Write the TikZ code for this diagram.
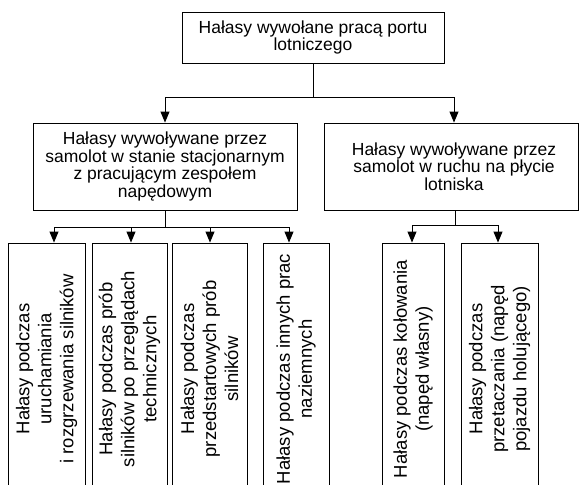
\documentclass[tikz,border=0pt]{standalone}
\usepackage{fontspec}
\setmainfont{Liberation Sans}
\usetikzlibrary{arrows.meta}
\begin{document}
\begin{tikzpicture}[x=1pt,y=-1pt,
  box/.style={draw,line width=0.9pt,align=center,inner sep=2pt,font=\fontsize{17.5}{17.5}\selectfont},
  vbox/.style={draw,line width=0.9pt,align=center,rotate=90,inner sep=2pt,font=\fontsize{18.5}{22}\selectfont,minimum width=252pt},
  conn/.style={line width=0.9pt},
  arr/.style={line width=0.9pt,-{Triangle[width=9pt,length=11pt]}}]
\useasboundingbox (0,0) rectangle (579,485);
\clip (0,0) rectangle (579,485);
% level 0
\node[box,minimum width=262pt,minimum height=51pt] (top) at (313,37.5) {Hałasy wywołane pracą portu\\lotniczego};
% level 1
\node[box,minimum width=264pt,minimum height=87pt] (L) at (165,166.5) {Hałasy wywoływane przez\\samolot w stanie stacjonarnym\\z pracującym zespołem\\napędowym};
\node[box,minimum width=254pt,minimum height=87pt] (R) at (451,166.5) {\hspace*{6pt}Hałasy wywoływane przez\\\hspace*{6pt}samolot w ruchu na płycie\\\hspace*{6pt}lotniska};
% level 2
\node[vbox,minimum height=77pt] (b1) at (46.5,369) {Hałasy podczas\\uruchamiania\\i rozgrzewania silników};
\node[vbox,minimum height=75pt] (b2) at (129.5,369) {Hałasy podczas prób\\silników po przeglądach\\technicznych};
\node[vbox,minimum height=75pt] (b3) at (209.5,369) {Hałasy podczas\\przedstartowych prób\\silników};
\node[vbox,minimum height=66pt] (b4) at (296,369) {Hałasy podczas innych prac\\naziemnych};
\node[vbox,minimum height=62pt] (b5) at (413,369) {Hałasy podczas kołowania\\(napęd własny)};
\node[vbox,minimum height=77pt] (b6) at (499.5,369) {Hałasy podczas\\przetaczania (napęd\\pojazdu holującego)};
% connectors level 0 -> 1
\coordinate (j0) at (313,97);
\coordinate (jl) at (165,97);
\coordinate (jr) at (454,97);
\draw[conn] (top.south) -- (j0);
\draw[conn] (jl) -- (jr);
\draw[arr] (jl) -- (jl |- L.north);
\draw[arr] (jr) -- (jr |- R.north);
% connectors L -> b1..b4
\coordinate (lj) at (165,227);
\coordinate (a1) at (54,227);
\coordinate (a2) at (131,227);
\coordinate (a3) at (210,227);
\coordinate (a4) at (289,227);
\draw[conn] (L.south) -- (lj);
\draw[conn] (a1) -- (a4);
\draw[arr] (a1) -- (a1 |- b1.east);
\draw[arr] (a2) -- (a2 |- b2.east);
\draw[arr] (a3) -- (a3 |- b3.east);
\draw[arr] (a4) -- (a4 |- b4.east);
% connectors R -> b5, b6
\coordinate (rj) at (455,225);
\coordinate (c1) at (412,225);
\coordinate (c2) at (498,225);
\draw[conn] (rj |- R.south) -- (rj);
\draw[conn] (c1) -- (c2);
\draw[arr] (c1) -- (c1 |- b5.east);
\draw[arr] (c2) -- (c2 |- b6.east);
\end{tikzpicture}
\end{document}
